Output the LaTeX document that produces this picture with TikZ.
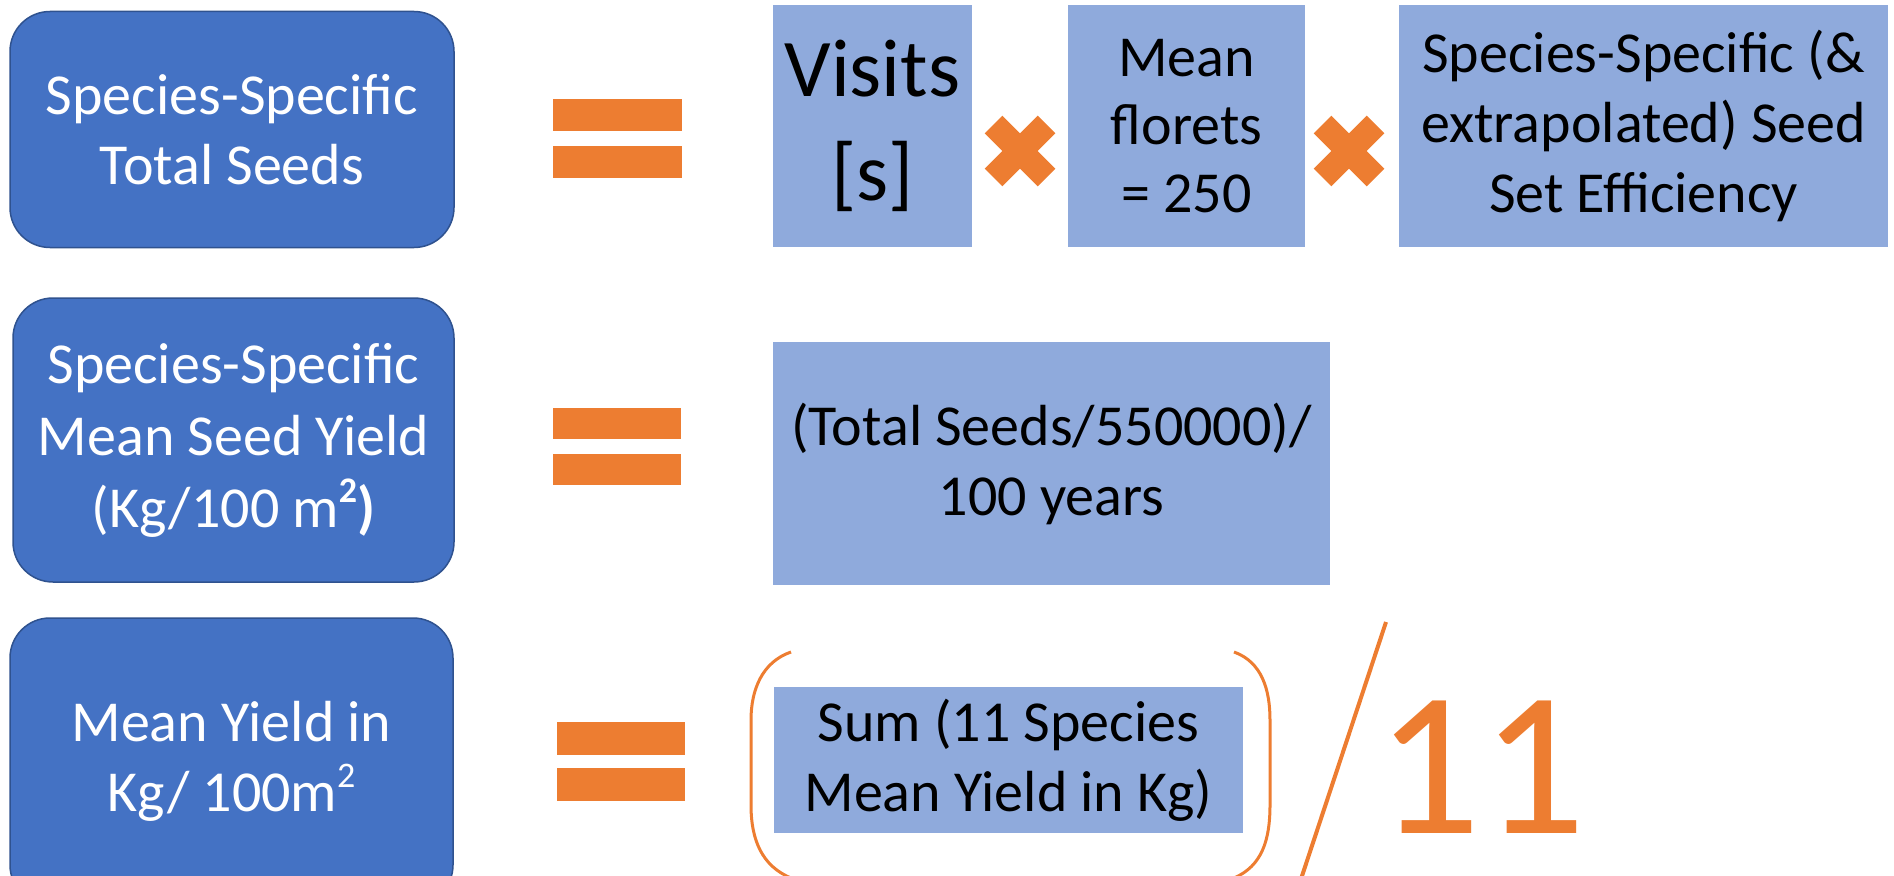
\documentclass[tikz,border=0pt]{standalone}
\usepackage{fontspec}
\setmainfont{Carlito}
\definecolor{dblue}{HTML}{4472C4}
\definecolor{dedge}{HTML}{2F528F}
\definecolor{lblue}{HTML}{8FAADC}
\definecolor{orng}{HTML}{ED7D31}
\newcommand{\mysq}[1]{\raisebox{0.42em}{\fontsize{36}{36}\selectfont #1}}
\begin{document}
\begin{tikzpicture}[x=1pt,y=-1pt,
  darkbox/.style={rectangle, rounded corners=40pt, fill=dblue, draw=dedge, line width=1.5pt,
    text=white, align=center, inner sep=0pt, font=\fontsize{58}{70}\selectfont},
  lightbox/.style={rectangle, fill=lblue, text=black, align=center, inner sep=0pt,
    font=\fontsize{58}{70}\selectfont},
  eqbar/.style={fill=orng},
  xarm/.style={draw=orng, line width=25pt},
  parenline/.style={draw=orng, line width=3pt},
]
\useasboundingbox (0,0) rectangle (1894,875);

% left column
\node[darkbox, minimum width=444pt, minimum height=236pt] (b1) at (232,129.5)
  {Species-Specific\\Total Seeds};
\node[darkbox, minimum width=441pt, minimum height=284pt,
  font=\fontsize{58}{72}\selectfont] (b2) at (233.5,440)
  {Species-Specific\\Mean Seed Yield\\(Kg/100 m\mysq{\textbf{2}}\textbf{)}};
\node[darkbox, minimum width=443pt, minimum height=287pt] (b3) at (231.5,761.5)
  {Mean Yield in\\Kg/ 100m\mysq{2}};

% equals signs
\fill[eqbar] (553,99) rectangle (682,131);
\fill[eqbar] (553,146) rectangle (682,178);
\fill[eqbar] (553,408) rectangle (681,439);
\fill[eqbar] (553,454) rectangle (681,485);
\fill[eqbar] (557,722) rectangle (685,755);
\fill[eqbar] (557,768) rectangle (685,801);

% row 1
\node[lightbox, minimum width=199pt, minimum height=242pt,
  font=\fontsize{82}{104}\selectfont] (v) at (872.5,126) {Visits\\{[s]}};
\node[lightbox, minimum width=237pt, minimum height=242pt,
  font=\fontsize{58}{68}\selectfont] (m) at (1186.5,126) {Mean\\florets\\= 250};
\node[lightbox, minimum width=489pt, minimum height=242pt,
  font=\fontsize{58}{70}\selectfont] (s) at (1643.5,126)
  {Species-Specific (\&\\extrapolated) Seed\\Set Efficiency};

\coordinate (x1) at (1020,151);
\coordinate (x2) at (1349,151);
\draw[xarm] (x1) ++(-26.5,-26.5) -- ++(53,53);
\draw[xarm] (x1) ++(-26.5,26.5) -- ++(53,-53);
\draw[xarm] (x2) ++(-26.5,-26.5) -- ++(53,53);
\draw[xarm] (x2) ++(-26.5,26.5) -- ++(53,-53);

% row 2
\node[lightbox, minimum width=557pt, minimum height=243pt] (t) at (1051.5,463.5)
  {(Total Seeds/550000)/\\100 years};

% row 3
\node[lightbox, minimum width=469pt, minimum height=146pt] (u) at (1008.5,760)
  {Sum (11 Species\\Mean Yield in Kg)};

\draw[parenline] (791,652) .. controls (762,662) and (751,690) .. (751,720)
  -- (751,805) .. controls (751,840) and (762,866) .. (791,878);
\draw[parenline] (1234,652) .. controls (1262,662) and (1270,690) .. (1270,720)
  -- (1270,805) .. controls (1270,840) and (1262,866) .. (1234,878);

\coordinate (sl1) at (1386,622);
\coordinate (sl2) at (1300,882);
\draw[draw=orng, line width=4pt] (sl1) -- (sl2);

\node[text=orng, inner sep=0pt, font=\fontsize{206}{220}\selectfont] (eleven) at (1481,767) {11};
\end{tikzpicture}
\end{document}
